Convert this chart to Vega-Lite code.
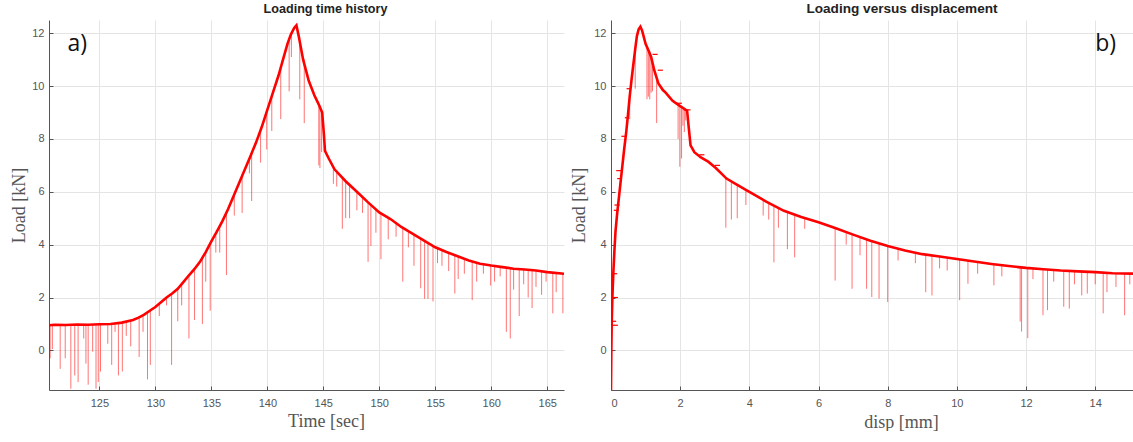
{
"$schema": "https://vega.github.io/schema/vega-lite/v6.json",
"padding": {"left": 10, "top": 2, "right": 0, "bottom": 0},
"spacing": 6,
"background": "white",
"config": {
  "view": {"stroke": null},
  "axis": {"domainColor": "#555555", "domainWidth": 1, "gridColor": "#e4e4e4", "gridWidth": 1, "tickColor": "#555555", "tickSize": -4, "labelColor": "#555555", "labelFont": "Liberation Sans", "labelFontSize": 11, "titleFont": "Liberation Serif", "titleFontSize": 18, "titleFontWeight": "normal", "titleColor": "#555555"},
  "axisX": {"labelPadding": 11},
  "axisY": {"labelPadding": 9},
  "title": {"font": "Liberation Sans", "fontWeight": "bold", "color": "#222222"}
},
"datasets": {
  "time": [
    {"t":120.5,"load":0.95},{"t":121,"load":0.97},{"t":122,"load":0.96},{"t":123,"load":0.98},{"t":124,"load":0.97},{"t":125,"load":0.99},{"t":126,"load":1.0},{"t":127,"load":1.05},{"t":128,"load":1.15},{"t":128.5,"load":1.24},{"t":129,"load":1.35},{"t":129.5,"load":1.5},{"t":130,"load":1.64},{"t":130.5,"load":1.82},{"t":131,"load":2.0},{"t":131.5,"load":2.15},{"t":132,"load":2.33},{"t":132.5,"load":2.58},{"t":133,"load":2.84},{"t":133.5,"load":3.08},{"t":134,"load":3.36},{"t":134.5,"load":3.72},{"t":135,"load":4.12},{"t":135.5,"load":4.5},{"t":136,"load":4.9},{"t":136.5,"load":5.35},{"t":137,"load":5.85},{"t":137.5,"load":6.35},{"t":138,"load":6.85},{"t":138.5,"load":7.35},{"t":139,"load":7.87},{"t":139.5,"load":8.45},{"t":140,"load":9.1},{"t":140.5,"load":9.75},{"t":141,"load":10.4},{"t":141.4,"load":11.0},{"t":141.8,"load":11.6},{"t":142.1,"load":11.95},{"t":142.4,"load":12.2},{"t":142.6,"load":12.3},{"t":142.8,"load":11.9},{"t":143.2,"load":11.0},{"t":143.7,"load":10.2},{"t":144.2,"load":9.65},{"t":144.6,"load":9.3},{"t":144.9,"load":9.0},{"t":145.05,"load":8.2},{"t":145.15,"load":7.55},{"t":145.5,"load":7.25},{"t":146,"load":6.85},{"t":147,"load":6.4},{"t":148,"load":6.0},{"t":149,"load":5.6},{"t":150,"load":5.22},{"t":151,"load":4.97},{"t":152,"load":4.66},{"t":153,"load":4.41},{"t":154,"load":4.15},{"t":155,"load":3.9},{"t":156,"load":3.72},{"t":157,"load":3.56},{"t":158,"load":3.4},{"t":159,"load":3.28},{"t":160,"load":3.21},{"t":161,"load":3.15},{"t":162,"load":3.09},{"t":163,"load":3.06},{"t":164,"load":3.02},{"t":165,"load":2.96},{"t":166.5,"load":2.9}
  ],
  "timeSpikes": [
    {"t":120.6,"top":0.95,"bottom":-0.3},{"t":120.8,"top":0.96,"bottom":0.05},{"t":121.5,"top":0.97,"bottom":-0.7},{"t":121.95,"top":0.97,"bottom":-0.3},{"t":122.45,"top":0.97,"bottom":-1.45},{"t":122.8,"top":0.97,"bottom":-0.95},{"t":123.1,"top":0.97,"bottom":-1.2},{"t":123.6,"top":0.97,"bottom":0.45},{"t":123.8,"top":0.97,"bottom":-0.5},{"t":124.0,"top":0.97,"bottom":-1.3},{"t":124.4,"top":0.98,"bottom":-0.05},{"t":124.7,"top":0.98,"bottom":-1.45},{"t":124.9,"top":0.99,"bottom":-1.2},{"t":125.1,"top":0.99,"bottom":-0.8},{"t":125.75,"top":1.0,"bottom":0.25},{"t":126.1,"top":1.0,"bottom":-0.55},{"t":126.4,"top":1.02,"bottom":0.7},{"t":126.7,"top":1.03,"bottom":-0.95},{"t":127.05,"top":1.05,"bottom":-0.8},{"t":127.4,"top":1.08,"bottom":0.55},{"t":127.8,"top":1.12,"bottom":0.15},{"t":128.55,"top":1.22,"bottom":-0.25},{"t":128.9,"top":1.3,"bottom":0.7},{"t":129.3,"top":1.42,"bottom":-1.1},{"t":129.55,"top":1.5,"bottom":-0.55},{"t":130.35,"top":1.75,"bottom":1.3},{"t":131.0,"top":2.0,"bottom":1.7},{"t":131.45,"top":2.15,"bottom":-0.55},{"t":132.0,"top":2.33,"bottom":1.1},{"t":132.35,"top":2.5,"bottom":1.7},{"t":133.0,"top":2.84,"bottom":0.45},{"t":133.5,"top":3.1,"bottom":1.15},{"t":134.2,"top":3.45,"bottom":1.0},{"t":134.5,"top":3.7,"bottom":2.6},{"t":134.9,"top":4.0,"bottom":1.5},{"t":135.4,"top":4.45,"bottom":3.7},{"t":135.75,"top":4.7,"bottom":3.7},{"t":136.35,"top":5.15,"bottom":2.85},{"t":137.05,"top":5.9,"bottom":5.1},{"t":137.75,"top":6.6,"bottom":5.2},{"t":138.4,"top":7.25,"bottom":6.7},{"t":138.6,"top":7.45,"bottom":5.65},{"t":139.4,"top":8.35,"bottom":7.1},{"t":139.95,"top":9.0,"bottom":7.6},{"t":140.4,"top":9.6,"bottom":8.3},{"t":141.2,"top":10.65,"bottom":8.75},{"t":141.95,"top":11.8,"bottom":9.8},{"t":142.15,"top":12.0,"bottom":11.1},{"t":142.9,"top":11.6,"bottom":9.5},{"t":143.3,"top":11.0,"bottom":8.6},{"t":144.6,"top":9.3,"bottom":7.0},{"t":144.7,"top":9.2,"bottom":6.9},{"t":144.85,"top":9.05,"bottom":7.5},{"t":145.9,"top":6.9,"bottom":6.3},{"t":146.2,"top":6.8,"bottom":6.2},{"t":146.7,"top":6.55,"bottom":4.6},{"t":147.0,"top":6.4,"bottom":5.0},{"t":147.35,"top":6.25,"bottom":5.0},{"t":148.0,"top":6.0,"bottom":5.3},{"t":148.5,"top":5.8,"bottom":5.2},{"t":149.0,"top":5.6,"bottom":3.35},{"t":149.25,"top":5.5,"bottom":3.95},{"t":149.7,"top":5.35,"bottom":4.45},{"t":150.15,"top":5.2,"bottom":3.45},{"t":150.8,"top":4.99,"bottom":4.2},{"t":151.5,"top":4.8,"bottom":4.3},{"t":152.1,"top":4.63,"bottom":2.6},{"t":152.6,"top":4.5,"bottom":3.9},{"t":153.1,"top":4.38,"bottom":3.2},{"t":153.7,"top":4.23,"bottom":2.35},{"t":154.05,"top":4.14,"bottom":1.95},{"t":154.35,"top":4.06,"bottom":1.95},{"t":154.8,"top":3.95,"bottom":1.85},{"t":155.2,"top":3.87,"bottom":3.3},{"t":155.6,"top":3.8,"bottom":3.2},{"t":156.2,"top":3.69,"bottom":3.0},{"t":156.75,"top":3.6,"bottom":2.15},{"t":157.05,"top":3.55,"bottom":2.7},{"t":157.6,"top":3.48,"bottom":2.9},{"t":158.3,"top":3.36,"bottom":1.9},{"t":158.7,"top":3.3,"bottom":2.6},{"t":159.3,"top":3.26,"bottom":2.9},{"t":159.95,"top":3.21,"bottom":2.45},{"t":160.3,"top":3.19,"bottom":2.6},{"t":160.8,"top":3.16,"bottom":2.8},{"t":161.35,"top":3.13,"bottom":0.7},{"t":161.7,"top":3.11,"bottom":0.45},{"t":162.0,"top":3.09,"bottom":2.3},{"t":162.5,"top":3.07,"bottom":1.3},{"t":162.9,"top":3.06,"bottom":2.5},{"t":163.3,"top":3.05,"bottom":2.0},{"t":163.65,"top":3.03,"bottom":1.6},{"t":164.0,"top":3.02,"bottom":2.4},{"t":164.5,"top":2.99,"bottom":2.1},{"t":164.9,"top":2.97,"bottom":2.6},{"t":165.5,"top":2.94,"bottom":1.4},{"t":165.8,"top":2.93,"bottom":2.2},{"t":166.4,"top":2.9,"bottom":1.4}
  ],
  "disp": [
    {"i":1,"d":0,"load":-1.5},{"i":2,"d":0.01,"load":0},{"i":3,"d":0.02,"load":1.0},{"i":4,"d":0.04,"load":2.0},{"i":5,"d":0.07,"load":3.0},{"i":6,"d":0.1,"load":3.8},{"i":7,"d":0.13,"load":4.5},{"i":8,"d":0.18,"load":5.2},{"i":9,"d":0.23,"load":5.8},{"i":10,"d":0.28,"load":6.4},{"i":11,"d":0.33,"load":7.0},{"i":12,"d":0.38,"load":7.6},{"i":13,"d":0.44,"load":8.26},{"i":14,"d":0.49,"load":8.9},{"i":15,"d":0.54,"load":9.6},{"i":16,"d":0.59,"load":10.2},{"i":17,"d":0.64,"load":10.75},{"i":18,"d":0.7,"load":11.4},{"i":19,"d":0.75,"load":11.9},{"i":20,"d":0.8,"load":12.15},{"i":21,"d":0.85,"load":12.25},{"i":22,"d":0.9,"load":12.1},{"i":23,"d":1.0,"load":11.6},{"i":24,"d":1.1,"load":11.3},{"i":25,"d":1.16,"load":11.1},{"i":26,"d":1.25,"load":10.6},{"i":27,"d":1.37,"load":10.1},{"i":28,"d":1.5,"load":9.85},{"i":29,"d":1.58,"load":9.75},{"i":30,"d":1.78,"load":9.44},{"i":31,"d":1.99,"load":9.25},{"i":32,"d":2.2,"load":9.07},{"i":33,"d":2.25,"load":8.4},{"i":34,"d":2.3,"load":7.76},{"i":35,"d":2.41,"load":7.5},{"i":36,"d":2.6,"load":7.3},{"i":37,"d":2.82,"load":7.13},{"i":38,"d":3.03,"load":6.9},{"i":39,"d":3.34,"load":6.5},{"i":40,"d":3.6,"load":6.3},{"i":41,"d":4.0,"load":6.0},{"i":42,"d":4.5,"load":5.62},{"i":43,"d":5.0,"load":5.28},{"i":44,"d":5.5,"load":5.05},{"i":45,"d":6.0,"load":4.85},{"i":46,"d":6.5,"load":4.62},{"i":47,"d":7.0,"load":4.38},{"i":48,"d":7.5,"load":4.15},{"i":49,"d":8.0,"load":3.95},{"i":50,"d":8.5,"load":3.78},{"i":51,"d":9.0,"load":3.64},{"i":52,"d":9.5,"load":3.55},{"i":53,"d":10.0,"load":3.46},{"i":54,"d":10.5,"load":3.36},{"i":55,"d":11.0,"load":3.27},{"i":56,"d":11.5,"load":3.19},{"i":57,"d":12.0,"load":3.12},{"i":58,"d":12.5,"load":3.07},{"i":59,"d":13.0,"load":3.02},{"i":60,"d":13.5,"load":2.99},{"i":61,"d":14.0,"load":2.96},{"i":62,"d":14.5,"load":2.92},{"i":63,"d":15.15,"load":2.9}
  ],
  "dispDashes": [
    {"d":0.0,"d2":0.2,"load":0.95},{"d":0.0,"d2":0.15,"load":1.1},{"d":0.02,"d2":0.2,"load":2.0},{"d":0.05,"d2":0.18,"load":2.9},{"d":0.08,"d2":0.22,"load":5.3},{"d":0.1,"d2":0.25,"load":5.5},{"d":0.15,"d2":0.3,"load":6.8},{"d":0.18,"d2":0.3,"load":6.5},{"d":0.3,"d2":0.45,"load":8.1},{"d":0.4,"d2":0.52,"load":8.8},{"d":0.45,"d2":0.55,"load":9.9},{"d":1.2,"d2":1.35,"load":11.2},{"d":1.35,"d2":1.5,"load":10.6},{"d":1.9,"d2":2.05,"load":9.35},{"d":2.1,"d2":2.3,"load":9.1},{"d":2.55,"d2":2.7,"load":7.4},{"d":3.0,"d2":3.15,"load":7.0}
  ],
  "dispSpikes": [
    {"d":0.54,"top":9.6,"bottom":8.75},{"d":0.7,"top":11.4,"bottom":9.9},{"d":1.04,"top":11.5,"bottom":9.5},{"d":1.08,"top":11.4,"bottom":9.6},{"d":1.12,"top":11.3,"bottom":9.5},{"d":1.16,"top":11.1,"bottom":9.75},{"d":1.2,"top":10.9,"bottom":9.8},{"d":1.32,"top":10.3,"bottom":8.6},{"d":1.94,"top":9.3,"bottom":8.0},{"d":1.99,"top":9.25,"bottom":6.95},{"d":2.04,"top":9.2,"bottom":7.26},{"d":2.08,"top":9.15,"bottom":8.5},{"d":2.12,"top":9.1,"bottom":8.26},{"d":2.16,"top":9.1,"bottom":8.7},{"d":3.32,"top":6.52,"bottom":4.64},{"d":3.48,"top":6.4,"bottom":4.95},{"d":3.65,"top":6.28,"bottom":5.0},{"d":3.9,"top":6.05,"bottom":5.5},{"d":4.4,"top":5.67,"bottom":5.1},{"d":4.56,"top":5.55,"bottom":4.95},{"d":4.71,"top":5.45,"bottom":3.33},{"d":4.84,"top":5.37,"bottom":4.64},{"d":5.1,"top":5.22,"bottom":3.83},{"d":5.31,"top":5.15,"bottom":3.52},{"d":5.6,"top":5.03,"bottom":4.6},{"d":6.48,"top":4.62,"bottom":2.64},{"d":6.8,"top":4.46,"bottom":4.0},{"d":6.97,"top":4.38,"bottom":2.33},{"d":7.2,"top":4.3,"bottom":3.6},{"d":7.39,"top":4.2,"bottom":2.33},{"d":7.54,"top":4.13,"bottom":2.02},{"d":7.75,"top":4.05,"bottom":1.96},{"d":8.0,"top":3.95,"bottom":1.83},{"d":8.3,"top":3.85,"bottom":3.4},{"d":8.8,"top":3.7,"bottom":3.3},{"d":9.1,"top":3.62,"bottom":2.2},{"d":9.28,"top":3.59,"bottom":2.08},{"d":9.5,"top":3.55,"bottom":3.1},{"d":9.72,"top":3.5,"bottom":3.02},{"d":10.08,"top":3.45,"bottom":1.9},{"d":10.32,"top":3.4,"bottom":2.52},{"d":10.6,"top":3.34,"bottom":2.9},{"d":11.07,"top":3.26,"bottom":2.46},{"d":11.3,"top":3.22,"bottom":2.8},{"d":11.83,"top":3.14,"bottom":1.09},{"d":11.87,"top":3.14,"bottom":0.71},{"d":12.05,"top":3.12,"bottom":0.46},{"d":12.2,"top":3.1,"bottom":2.7},{"d":12.49,"top":3.07,"bottom":1.33},{"d":12.62,"top":3.06,"bottom":1.52},{"d":12.8,"top":3.04,"bottom":2.6},{"d":13.09,"top":3.02,"bottom":1.65},{"d":13.25,"top":3.01,"bottom":1.58},{"d":13.4,"top":3.0,"bottom":2.5},{"d":13.61,"top":2.99,"bottom":2.08},{"d":13.77,"top":2.98,"bottom":2.15},{"d":14.0,"top":2.96,"bottom":2.5},{"d":14.23,"top":2.94,"bottom":1.4},{"d":14.34,"top":2.93,"bottom":2.2},{"d":14.6,"top":2.92,"bottom":2.4},{"d":14.85,"top":2.91,"bottom":1.33},{"d":15.0,"top":2.9,"bottom":2.5}
  ]
},
"hconcat": [
  {
    "width": 515, "height": 370,
    "title": {"text": "Loading time history", "dx": 19, "offset": 4, "fontSize": 12.6},
    "layer": [
      {
        "data": {"name": "timeSpikes"},
        "mark": {"type": "rule", "color": "#ff0000", "opacity": 0.55, "strokeWidth": 1, "clip": true},
        "encoding": {
          "x": {"field": "t", "type": "quantitative", "scale": {"domain": [120.5, 166.5], "nice": false, "zero": false},
                "axis": {"title": "Time [sec]", "values": [125,130,135,140,145,150,155,160,165], "grid": true, "titleX": 277, "titleY": 31, "titleBaseline": "middle", "titleAlign": "center"}},
          "y": {"field": "top", "type": "quantitative", "scale": {"domain": [-1.5, 12.5], "nice": false, "zero": false},
                "axis": {"title": "Load [kN]", "values": [0,2,4,6,8,10,12], "grid": true, "titleX": -30, "titleY": 185, "titleBaseline": "middle", "titleAlign": "center"}},
          "y2": {"field": "bottom"}
        }
      },
      {
        "data": {"name": "time"},
        "mark": {"type": "line", "color": "#ff0000", "strokeWidth": 2.6, "clip": true},
        "encoding": {
          "x": {"field": "t", "type": "quantitative"},
          "y": {"field": "load", "type": "quantitative"}
        }
      },
      {
        "data": {"values": [{"t": 122.15, "load": 11.6, "label": "a)"}]},
        "mark": {"type": "text", "align": "left", "baseline": "middle", "font": "Open Sans", "fontSize": 23, "color": "#111111"},
        "encoding": {
          "x": {"field": "t", "type": "quantitative"},
          "y": {"field": "load", "type": "quantitative"},
          "text": {"field": "label"}
        }
      }
    ]
  },
  {
    "width": 524, "height": 370,
    "title": {"text": "Loading versus displacement", "dx": 29, "offset": 4, "fontSize": 13.6},
    "layer": [
      {
        "data": {"name": "dispSpikes"},
        "mark": {"type": "rule", "color": "#ff0000", "opacity": 0.55, "strokeWidth": 1, "clip": true},
        "encoding": {
          "x": {"field": "d", "type": "quantitative", "scale": {"domain": [0, 15.15], "nice": false, "zero": false},
                "axis": {"title": "disp [mm]", "values": [0,2,4,6,8,10,12,14], "grid": true, "titleX": 290, "titleY": 32, "titleBaseline": "middle", "titleAlign": "center"}},
          "y": {"field": "top", "type": "quantitative", "scale": {"domain": [-1.5, 12.5], "nice": false, "zero": false},
                "axis": {"title": "Load [kN]", "values": [0,2,4,6,8,10,12], "grid": true, "titleX": -32, "titleY": 185, "titleBaseline": "middle", "titleAlign": "center"}},
          "y2": {"field": "bottom"}
        }
      },
      {
        "data": {"name": "dispDashes"},
        "mark": {"type": "rule", "color": "#ff0000", "strokeWidth": 1.2, "clip": true},
        "encoding": {
          "x": {"field": "d", "type": "quantitative"},
          "x2": {"field": "d2"},
          "y": {"field": "load", "type": "quantitative"}
        }
      },
      {
        "data": {"name": "disp"},
        "mark": {"type": "line", "color": "#ff0000", "strokeWidth": 2.6, "clip": true},
        "encoding": {
          "x": {"field": "d", "type": "quantitative"},
          "y": {"field": "load", "type": "quantitative"},
          "order": {"field": "i", "type": "quantitative"}
        }
      },
      {
        "data": {"values": [{"d": 14.0, "load": 11.6, "label": "b)"}]},
        "mark": {"type": "text", "align": "left", "baseline": "middle", "font": "Open Sans", "fontSize": 23, "color": "#111111"},
        "encoding": {
          "x": {"field": "d", "type": "quantitative"},
          "y": {"field": "load", "type": "quantitative"},
          "text": {"field": "label"}
        }
      }
    ]
  }
]
}
